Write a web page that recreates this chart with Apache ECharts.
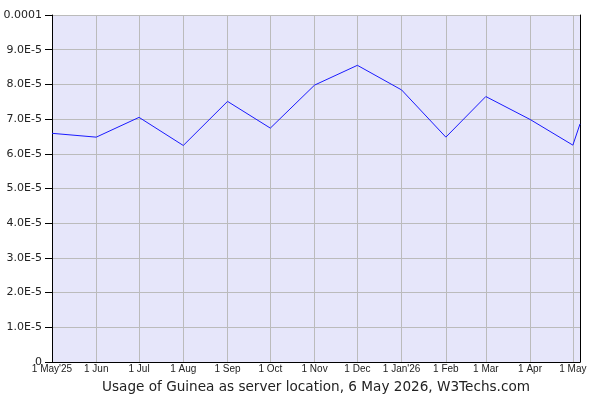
<!DOCTYPE html>
<html>
<head>
<meta charset="utf-8">
<script src="https://cdn.jsdelivr.net/npm/echarts@6/dist/echarts.min.js"></script>
<style>html,body{margin:0;padding:0;background:#fff;}#c{width:600px;height:400px;}</style>
</head>
<body>
<div id="c"></div>
<script>
// Data (values in units of 1E-5)
var pointDates = ['2025-05-01','2025-06-01','2025-07-01','2025-08-01','2025-09-01','2025-10-01','2025-11-01','2025-12-01','2026-01-01','2026-02-01','2026-03-01','2026-04-01','2026-05-01','2026-05-06'];
var usageE5 = [6.59, 6.48, 7.05, 6.24, 7.51, 6.74, 7.98, 8.55, 7.84, 6.48, 7.65, 6.99, 6.25, 6.86];
var tickDates = ['2025-05-01','2025-06-01','2025-07-01','2025-08-01','2025-09-01','2025-10-01','2025-11-01','2025-12-01','2026-01-01','2026-02-01','2026-03-01','2026-04-01','2026-05-01'];
var xTickLabels = ["1 May'25",'1 Jun','1 Jul','1 Aug','1 Sep','1 Oct','1 Nov','1 Dec',"1 Jan'26",'1 Feb','1 Mar','1 Apr','1 May'];
var yTickLabels = ['0','1.0E-5','2.0E-5','3.0E-5','4.0E-5','5.0E-5','6.0E-5','7.0E-5','8.0E-5','9.0E-5','0.0001'];
var axisStart = '2025-05-01';
var axisEnd = '2026-05-06';
var titleText = 'Usage of Guinea as server location, 6 May 2026, W3Techs.com';

function ts(s){ var p = s.split('-'); return Date.UTC(+p[0], +p[1]-1, +p[2]); }
var tickTs = tickDates.map(ts);
var seriesData = pointDates.map(function(d,i){ return [ts(d), usageE5[i]*1e-5]; });

var chart = echarts.init(document.getElementById('c'), null, {renderer:'canvas'});
chart.setOption({
  animation: false,
  backgroundColor: '#ffffff',
  grid: { left: 52, right: 20, top: 15, bottom: 38, show: true, backgroundColor: '#e6e6fa', borderWidth: 0 },
  xAxis: {
    type: 'value',
    min: ts(axisStart),
    max: ts(axisEnd),
    axisLine: { show: true, lineStyle: { color: '#000', width: 1 } },
    axisTick: { show: false },
    splitLine: { show: false },
    axisLabel: {
      customValues: tickTs,
      margin: 2,
      fontFamily: 'Liberation Sans',
      fontSize: 10,
      color: '#222',
      hideOverlap: false,
      showMinLabel: true,
      showMaxLabel: true,
      formatter: function(v){
        for (var i=0;i<tickTs.length;i++){ if (Math.abs(tickTs[i]-v) < 3600000*13) return xTickLabels[i]; }
        return '';
      }
    }
  },
  yAxis: [{
    type: 'value',
    min: 0,
    max: 0.0001,
    interval: 0.00001,
    axisLine: { show: true, lineStyle: { color: '#000', width: 1 } },
    axisTick: { show: true, length: 7, lineStyle: { color: '#000' } },
    splitLine: { show: true, lineStyle: { color: '#bbbbbb', width: 1 } },
    axisLabel: {
      margin: 10,
      fontFamily: 'DejaVu Sans',
      fontSize: 11,
      color: '#222',
      formatter: function(v){ return yTickLabels[Math.round(v/0.00001)]; }
    }
  },{
    type: 'value',
    position: 'right',
    min: 0,
    max: 0.0001,
    interval: 0.00001,
    axisLine: { show: true, lineStyle: { color: '#000', width: 1 } },
    axisTick: { show: false },
    splitLine: { show: false },
    axisLabel: { show: false }
  }],
  graphic: [{
    type: 'text',
    x: 316,
    y: 387,
    style: {
      text: titleText,
      fontFamily: 'DejaVu Sans',
      fontSize: 13.6,
      fill: '#222',
      textAlign: 'center',
      textVerticalAlign: 'middle'
    }
  }],
  series: [{
    type: 'line',
    data: seriesData,
    showSymbol: false,
    lineStyle: { color: '#1a1aff', width: 1 },
    itemStyle: { color: '#1a1aff' },
    z: 5,
    markLine: {
      silent: true,
      symbol: ['none','none'],
      label: { show: false },
      lineStyle: { color: '#bbbbbb', type: 'solid', width: 1 },
      emphasis: { disabled: true },
      data: tickTs.slice(1).map(function(t){ return { xAxis: t }; }),
      z: 1
    }
  }]
});
</script>
</body>
</html>
